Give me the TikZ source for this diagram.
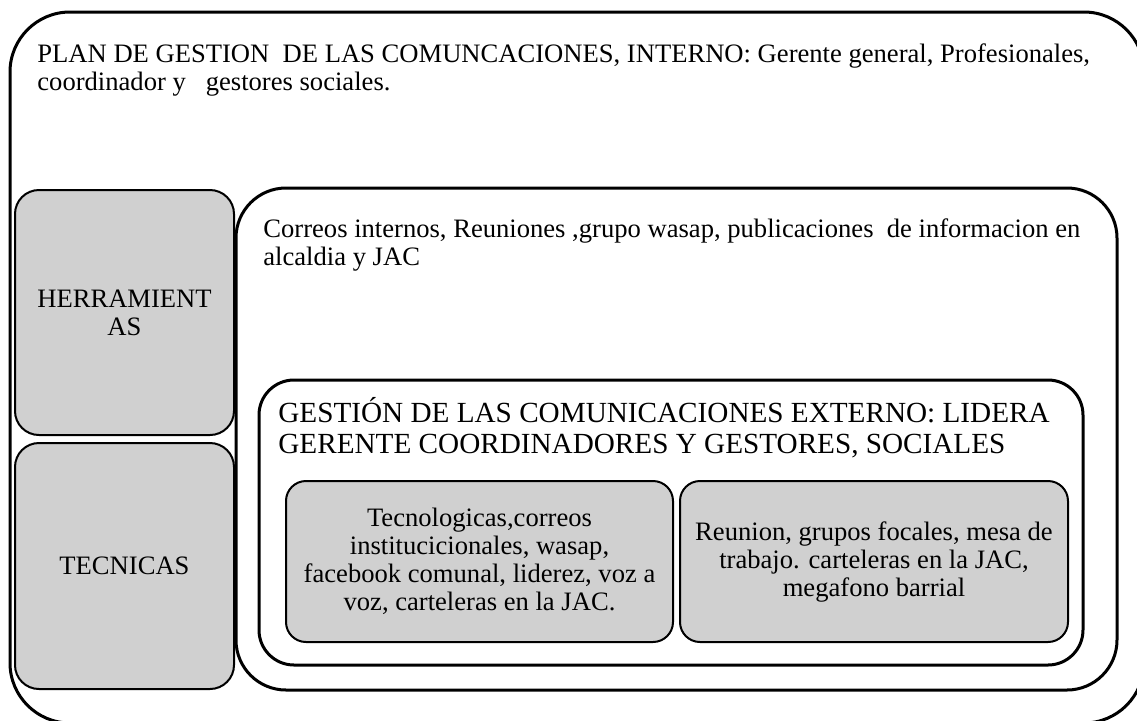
\documentclass[tikz,border=0pt]{standalone}
\usepackage{fontspec}
\setmainfont{Liberation Serif}
\usepackage{xcolor}
\usetikzlibrary{positioning}
\definecolor{grisclaro}{HTML}{D0D0D0}

\begin{document}
\begin{tikzpicture}[x=0.5pt,y=-0.5pt,
	marco/.style={draw,line width=1.5pt,rounded corners=#1,inner sep=0pt},
	caja/.style={draw,line width=1pt,fill=grisclaro,rounded corners=12pt,align=center,inner sep=0pt,font=\fontsize{13.3}{14}\selectfont},
	texto/.style={anchor=north west,align=left,inner sep=0pt,font=\fontsize{13.3}{14}\selectfont}]
	\useasboundingbox (0,0) rectangle (1137,720);
	\begin{scope}
		\clip (0,0) rectangle (1137,720);
		\node[marco=30pt,minimum width=567pt,minimum height=355.5pt] (plan) at (577,367.5) {};
	\end{scope}
	\node[texto] (titulo) at (37,43) {PLAN DE GESTION\ \ DE LAS COMUNCACIONES, INTERNO: Gerente general, Profesionales,\\coordinador y\ \ \ gestores sociales.};
	
	% columna izquierda
	\node[caja,minimum width=109.5pt,minimum height=122.5pt] (herr) at (124.5,312.5) {HERRAMIENT\\AS};
	\node[caja,minimum width=109.5pt,minimum height=123pt] (tec) at (124.5,566) {TECNICAS};
	
	% nivel interno
	\node[marco=25pt,minimum width=440.5pt,minimum height=251pt] (interno) at (676.5,439) {};
	\node[texto] (correos) at (263,218) {Correos internos, Reuniones ,grupo wasap, publicaciones\ \ de informacion en\\alcaldia y JAC};
	
	% nivel externo
	\node[marco=17.5pt,minimum width=412pt,minimum height=142.5pt] (externo) at (671,522.5) {};
	\node[texto,font=\fontsize{14.6}{15.5}\selectfont] (gestion) at (278,397) {GESTIÓN DE LAS COMUNICACIONES EXTERNO: LIDERA\\GERENTE COORDINADORES Y GESTORES, SOCIALES};
	
	\node[caja,rounded corners=10pt,minimum width=193.5pt,minimum height=80.5pt] (tecno) at (479.5,561.5) {Tecnologicas,correos\\institucicionales, wasap,\\facebook comunal, liderez, voz a\\voz, carteleras en la JAC.};
	\node[caja,rounded corners=10pt,minimum width=194pt,minimum height=80.5pt] (reunion) at (874,561.5) {Reunion, grupos focales, mesa de\\trabajo. carteleras en la JAC,\\megafono barrial};
\end{tikzpicture}
\end{document}
